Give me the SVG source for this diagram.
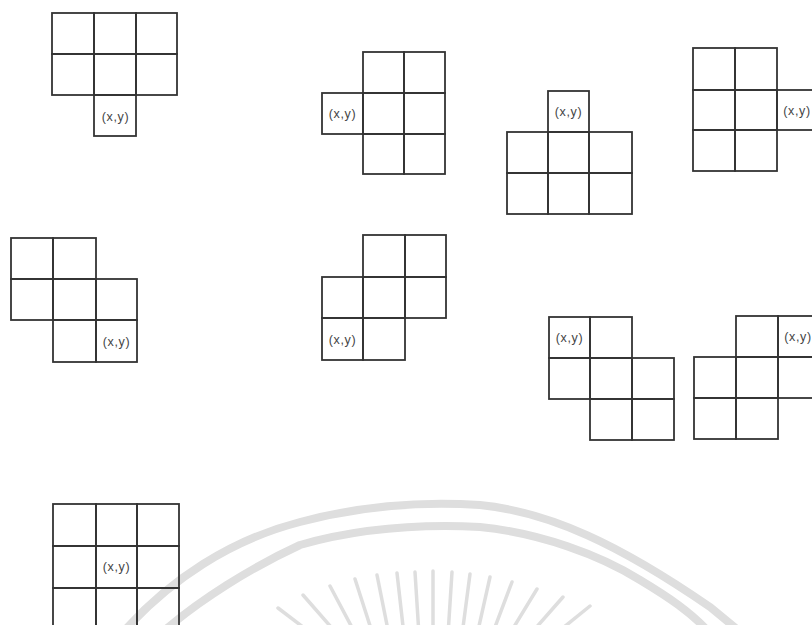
<svg xmlns="http://www.w3.org/2000/svg" width="812" height="625" viewBox="0 0 812 625">
<style>
.c{fill:none;stroke:#333;stroke-width:1.8}
.t{font-family:"Liberation Sans",Arial,sans-serif;font-size:12.5px;letter-spacing:0.6px;fill:#444;text-anchor:middle}
.wm{fill:none;stroke:#dedede;stroke-width:8;stroke-linecap:round}
.ray{fill:none;stroke:#dedede;stroke-width:3.5;stroke-linecap:round}
</style>
<rect width="812" height="625" fill="#fff"/>
<g id="watermark">
<path class="wm" d="M125,630 C170,580 230,540 300,522 C360,506 420,501 480,505 C550,512 620,545 710,607 L738,630"/>
<path class="wm" d="M165,630 C200,600 250,568 300,545 C360,528 420,524 480,527 C540,533 600,555 640,580 C670,598 690,612 707,630"/>
<g id="rays">
<line class="ray" x1="278" y1="608" x2="320" y2="640"/>
<line class="ray" x1="303" y1="595" x2="338" y2="635"/>
<line class="ray" x1="330" y1="586" x2="356" y2="635"/>
<line class="ray" x1="355" y1="579" x2="373" y2="635"/>
<line class="ray" x1="377" y1="575" x2="389" y2="635"/>
<line class="ray" x1="397" y1="573" x2="404" y2="635"/>
<line class="ray" x1="415" y1="572" x2="419" y2="635"/>
<line class="ray" x1="433" y1="571" x2="433" y2="635"/>
<line class="ray" x1="452" y1="572" x2="448" y2="635"/>
<line class="ray" x1="470" y1="574" x2="462" y2="635"/>
<line class="ray" x1="490" y1="577" x2="477" y2="635"/>
<line class="ray" x1="512" y1="582" x2="492" y2="635"/>
<line class="ray" x1="537" y1="589" x2="509" y2="635"/>
<line class="ray" x1="563" y1="597" x2="527" y2="638"/>
<line class="ray" x1="590" y1="606" x2="548" y2="640"/>
</g>
</g>
<g id="connectors"></g>
<g id="fig1">
<rect class="c" x="52" y="13" width="42" height="41"/>
<rect class="c" x="94" y="13" width="42" height="41"/>
<rect class="c" x="136" y="13" width="41" height="41"/>
<rect class="c" x="52" y="54" width="42" height="41"/>
<rect class="c" x="94" y="54" width="42" height="41"/>
<rect class="c" x="136" y="54" width="41" height="41"/>
<rect class="c" x="94" y="95" width="42" height="41"/>
<text class="t" x="115.5" y="121">(x,y)</text>
</g>
<g id="fig2">
<rect class="c" x="363" y="52" width="41" height="41"/>
<rect class="c" x="404" y="52" width="41" height="41"/>
<rect class="c" x="322" y="93" width="41" height="41"/>
<rect class="c" x="363" y="93" width="41" height="41"/>
<rect class="c" x="404" y="93" width="41" height="41"/>
<rect class="c" x="363" y="134" width="41" height="40"/>
<rect class="c" x="404" y="134" width="41" height="40"/>
<text class="t" x="342.5" y="118">(x,y)</text>
</g>
<g id="fig3">
<rect class="c" x="548" y="91" width="41" height="41"/>
<rect class="c" x="507" y="132" width="41" height="41"/>
<rect class="c" x="548" y="132" width="41" height="41"/>
<rect class="c" x="589" y="132" width="43" height="41"/>
<rect class="c" x="507" y="173" width="41" height="41"/>
<rect class="c" x="548" y="173" width="41" height="41"/>
<rect class="c" x="589" y="173" width="43" height="41"/>
<text class="t" x="568.5" y="116">(x,y)</text>
</g>
<g id="fig4">
<rect class="c" x="693" y="48" width="42" height="42"/>
<rect class="c" x="735" y="48" width="42" height="42"/>
<rect class="c" x="693" y="90" width="42" height="40"/>
<rect class="c" x="735" y="90" width="42" height="40"/>
<rect class="c" x="777" y="90" width="42" height="40"/>
<rect class="c" x="693" y="130" width="42" height="41"/>
<rect class="c" x="735" y="130" width="42" height="41"/>
<text class="t" x="797" y="115">(x,y)</text>
</g>
<g id="fig5">
<rect class="c" x="11" y="238" width="42" height="41"/>
<rect class="c" x="53" y="238" width="43" height="41"/>
<rect class="c" x="11" y="279" width="42" height="41"/>
<rect class="c" x="53" y="279" width="43" height="41"/>
<rect class="c" x="96" y="279" width="41" height="41"/>
<rect class="c" x="53" y="320" width="43" height="42"/>
<rect class="c" x="96" y="320" width="41" height="42"/>
<text class="t" x="116.5" y="346">(x,y)</text>
</g>
<g id="fig6">
<rect class="c" x="363" y="235" width="42" height="42"/>
<rect class="c" x="405" y="235" width="41" height="42"/>
<rect class="c" x="322" y="277" width="41" height="41"/>
<rect class="c" x="363" y="277" width="42" height="41"/>
<rect class="c" x="405" y="277" width="41" height="41"/>
<rect class="c" x="322" y="318" width="41" height="42"/>
<rect class="c" x="363" y="318" width="42" height="42"/>
<text class="t" x="342.5" y="344">(x,y)</text>
</g>
<g id="fig7">
<rect class="c" x="549" y="317" width="41" height="41"/>
<rect class="c" x="590" y="317" width="42" height="41"/>
<rect class="c" x="549" y="358" width="41" height="41"/>
<rect class="c" x="590" y="358" width="42" height="41"/>
<rect class="c" x="632" y="358" width="42" height="41"/>
<rect class="c" x="590" y="399" width="42" height="41"/>
<rect class="c" x="632" y="399" width="42" height="41"/>
<text class="t" x="569.5" y="342">(x,y)</text>
</g>
<g id="fig8">
<rect class="c" x="736" y="316" width="42" height="41"/>
<rect class="c" x="778" y="316" width="41" height="41"/>
<rect class="c" x="694" y="357" width="42" height="41"/>
<rect class="c" x="736" y="357" width="42" height="41"/>
<rect class="c" x="778" y="357" width="41" height="41"/>
<rect class="c" x="694" y="398" width="42" height="41"/>
<rect class="c" x="736" y="398" width="42" height="41"/>
<text class="t" x="798" y="341">(x,y)</text>
</g>
<g id="fig9">
<rect class="c" x="53" y="504" width="43" height="42"/>
<rect class="c" x="96" y="504" width="41" height="42"/>
<rect class="c" x="137" y="504" width="42" height="42"/>
<rect class="c" x="53" y="546" width="43" height="42"/>
<rect class="c" x="96" y="546" width="41" height="42"/>
<rect class="c" x="137" y="546" width="42" height="42"/>
<rect class="c" x="53" y="588" width="43" height="42"/>
<rect class="c" x="96" y="588" width="41" height="42"/>
<rect class="c" x="137" y="588" width="42" height="42"/>
<text class="t" x="116.5" y="571">(x,y)</text>
</g>
</svg>
